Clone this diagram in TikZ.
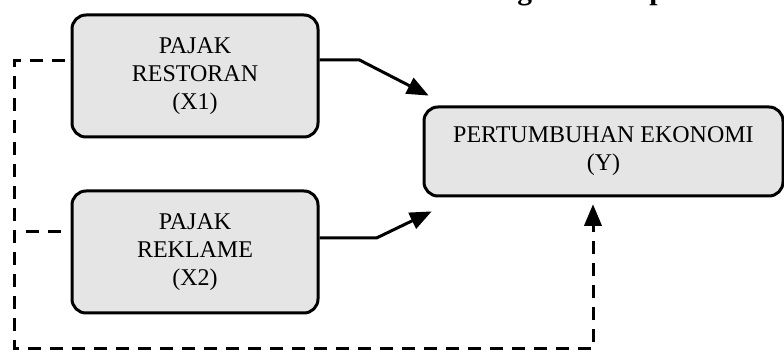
\documentclass[tikz,border=0pt]{standalone}
\usepackage{fontspec}
\setmainfont{Liberation Serif}
\usepackage{tikz}
\usetikzlibrary{arrows}
\tikzstyle{variabel}=[rectangle,rounded corners=7pt,minimum width=123pt,
minimum height=61pt,text centered,align=center,line width=1.5pt,draw=black,fill=gray!20,
font=\fontsize{12}{14}\selectfont]
\tikzstyle{arrow}=[line width=1.5pt,->,>=triangle 45]
\tikzstyle{dasharrow}=[line width=1.5pt,dash pattern=on 6.5pt off 4.5pt,->,>=triangle 45]
\tikzstyle{dashline}=[line width=1.5pt,dash pattern=on 6.5pt off 4.5pt]

\begin{document}
\begin{tikzpicture}[node distance=88pt]
        \useasboundingbox (0,0) rectangle (392pt,-176pt);
        \node (judul) [anchor=base west,font=\bfseries\fontsize{14.75}{16}\selectfont] at (215pt,0.25pt) {Kerangka Konsep};

        \node (x1) [variabel] at (97.5pt,-38pt) {PAJAK\\RESTORAN\\(X1)};
        \node (x2) [variabel,below of=x1] {PAJAK\\REKLAME\\(X2)};
        \node (y) [variabel,minimum width=179.5pt,minimum height=44.5pt] at (301.75pt,-75.75pt) {PERTUMBUHAN EKONOMI\\(Y)};
        \coordinate (sudut) at (7pt,-174.5pt);

        \draw [arrow] ([yshift=8pt]x1.east) -- ++(20pt,0) -- ([xshift=3pt,yshift=5pt]y.north west);
        \draw [arrow] ([yshift=7pt]x2.east) -- ++(28.5pt,0) -- ([xshift=4.5pt,yshift=-7pt]y.south west);

        \draw [dasharrow] ([xshift=-3pt,yshift=7.5pt]x1.west) -| (sudut) -| ([xshift=-5.25pt,yshift=-3.5pt]y.south);
        \draw [dashline] ([xshift=-5pt,yshift=10pt]x2.west) -- ++(-24pt,0);

    \end{tikzpicture}
\end{document}
